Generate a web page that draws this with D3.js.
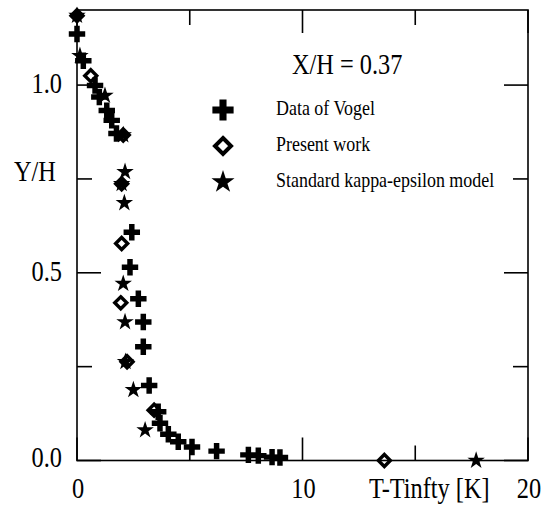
<!DOCTYPE html>
<html>
<head>
<meta charset="utf-8">
<script src="https://cdn.jsdelivr.net/npm/d3@7"></script>
<style>
  body { margin: 0; background: #fff; }
  svg text { font-family: "Liberation Serif", "Times New Roman", serif; fill: #000; }
</style>
</head>
<body>
<div id="chart"></div>
<script>
// data: [T-Tinfty, Y/H]
const vogel = [
  [0, 1.136], [0.28, 1.065], [0.8, 0.999], [0.99, 0.968], [1.32, 0.932],
  [1.54, 0.906], [1.75, 0.871], [2.43, 0.608], [2.35, 0.515], [2.72, 0.431],
  [2.94, 0.369], [2.94, 0.303], [3.2, 0.2], [3.6, 0.13], [3.68, 0.099],
  [4.05, 0.07], [4.49, 0.05], [5.1, 0.036], [6.19, 0.025], [7.6, 0.015],
  [8.04, 0.013], [8.65, 0.009], [9.0, 0.008]
];
const present = [
  [0, 1.185], [0.61, 1.025], [2.05, 0.867], [1.98, 0.737], [1.98, 0.578],
  [1.94, 0.42], [2.22, 0.263], [3.42, 0.134], [13.63, 0]
];
const standard = [
  [0, 1.185], [0.13, 1.078], [1.24, 0.972], [2.05, 0.867], [2.13, 0.769],
  [1.98, 0.737], [2.1, 0.686], [2.05, 0.471], [2.13, 0.369], [2.15, 0.263],
  [2.5, 0.188], [3.02, 0.081], [17.7, 0]
];
const xMajor = [0, 10, 20];
const xMinor = [5, 15];
const yMajor = [0, 0.5, 1.0];
const yMinor = [0.25, 0.75];
const legendItems = ["Data of Vogel", "Present work", "Standard kappa-epsilon model"];

const width = 554, height = 505;
const plotL = 77, plotR = 528, plotT = 10, plotB = 460.5;

const svg = d3.select("#chart").append("svg")
  .attr("width", width)
  .attr("height", height);

const x = d3.scaleLinear().domain([0, 20]).range([plotL, plotR]);
const y = d3.scaleLinear().domain([0, 1.2]).range([plotB, plotT]);

// text is narrow in the picture, so squeeze it sideways
const sx = 0.855;
function label(str, px, py, size, anchor){
  return svg.append("text")
    .attr("transform", `translate(${px},${py}) scale(${sx},1)`)
    .attr("font-size", size)
    .attr("text-anchor", anchor || "start")
    .text(str);
}

// frame
svg.append("rect")
  .attr("x", plotL).attr("y", plotT)
  .attr("width", plotR - plotL).attr("height", plotB - plotT)
  .attr("fill", "none").attr("stroke", "#000").attr("stroke-width", 1.6);

// ticks, inward on all four sides
const tickG = svg.append("g").attr("stroke", "#000").attr("stroke-width", 1.6);
const xTicks = xMajor.map(v => [v, 23]).concat(xMinor.map(v => [v, 15]));
const yTicks = yMajor.map(v => [v, 24]).concat(yMinor.map(v => [v, 15]));
xTicks.forEach(([v, len]) => {
  tickG.append("line").attr("x1", x(v)).attr("x2", x(v)).attr("y1", plotB).attr("y2", plotB - len);
  tickG.append("line").attr("x1", x(v)).attr("x2", x(v)).attr("y1", plotT).attr("y2", plotT + len);
});
yTicks.forEach(([v, len]) => {
  tickG.append("line").attr("x1", plotL).attr("x2", plotL + len).attr("y1", y(v)).attr("y2", y(v));
  tickG.append("line").attr("x1", plotR).attr("x2", plotR - len).attr("y1", y(v)).attr("y2", y(v));
});

// tick labels
const fmt = d3.format(".1f");
yMajor.forEach(v => label(fmt(v), 62, y(v) + (v === 0 ? 6 : 8), 28.5, "end"));
xMajor.forEach(v => label(String(v), x(v) + 1, 498, 28.5, "middle"));

// axis titles and annotation
label("Y/H", 14, 181, 28.5);
label("T-Tinfty [K]", 369, 498, 28.5);
label("X/H = 0.37", 292, 74, 28.5);

// marker makers
const cross = s => d3.symbol().type(d3.symbolCross).size(s)();
const star = s => d3.symbol().type(d3.symbolStar).size(s)();
const diamond = h => `M0,${-h}L${h},0L0,${h}L${-h},0Z`;

function drawMarks(data, kind){
  const g = svg.append("g");
  const sel = g.selectAll("path").data(data).join("path")
    .attr("transform", d => `translate(${x(d[0])},${y(d[1])})`);
  if (kind === "cross") sel.attr("d", cross(150)).attr("fill", "#000");
  if (kind === "star") sel.attr("d", star(95)).attr("fill", "#000");
  if (kind === "diamond") sel.attr("d", diamond(6)).attr("fill", "none")
    .attr("stroke", "#000").attr("stroke-width", 3.4);
}
drawMarks(standard, "star");
drawMarks(vogel, "cross");
drawMarks(present, "diamond");

// legend
const legY = [110, 146, 182];
svg.append("path").attr("d", cross(250)).attr("transform", `translate(223,${legY[0]})`).attr("fill", "#000");
svg.append("path").attr("d", diamond(8)).attr("transform", `translate(223,${legY[1]})`)
  .attr("fill", "none").attr("stroke", "#000").attr("stroke-width", 4);
svg.append("path").attr("d", star(165)).attr("transform", `translate(223,${legY[2]})`).attr("fill", "#000");
legendItems.forEach((t, i) => label(t, 276, legY[i] + 5, 21));
</script>
</body>
</html>
